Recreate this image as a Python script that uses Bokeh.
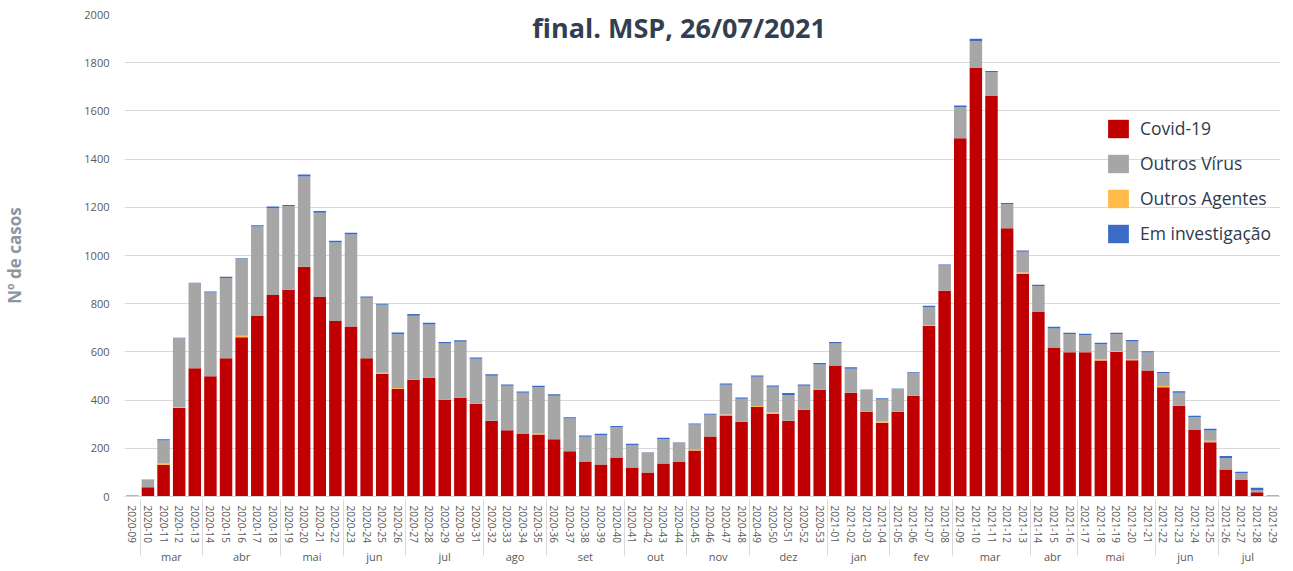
from bokeh.plotting import figure
from bokeh.models import ColumnDataSource, FactorRange, Range1d, Label, Legend, SingleIntervalTicker
from bokeh.embed import file_html
from bokeh.resources import INLINE

weeks = ["2020-09", "2020-10", "2020-11", "2020-12", "2020-13", "2020-14", "2020-15", "2020-16",
         "2020-17", "2020-18", "2020-19", "2020-20", "2020-21", "2020-22", "2020-23", "2020-24",
         "2020-25", "2020-26", "2020-27", "2020-28", "2020-29", "2020-30", "2020-31", "2020-32",
         "2020-33", "2020-34", "2020-35", "2020-36", "2020-37", "2020-38", "2020-39", "2020-40",
         "2020-41", "2020-42", "2020-43", "2020-44", "2020-45", "2020-46", "2020-47", "2020-48",
         "2020-49", "2020-50", "2020-51", "2020-52", "2020-53", "2021-01", "2021-02", "2021-03",
         "2021-04", "2021-05", "2021-06", "2021-07", "2021-08", "2021-09", "2021-10", "2021-11",
         "2021-12", "2021-13", "2021-14", "2021-15", "2021-16", "2021-17", "2021-18", "2021-19",
         "2021-20", "2021-21", "2021-22", "2021-23", "2021-24", "2021-25", "2021-26", "2021-27",
         "2021-28", "2021-29"]

month_names = ["", "mar", "abr", "mai", "jun", "jul", "ago", "set", "out", "nov", "dez",
               "jan", "fev", "mar", "abr", "mai", "jun", "jul"]
month_week_counts = [1, 4, 5, 4, 4, 5, 4, 5, 4, 4, 5, 4, 4, 5, 3, 5, 4, 4]

covid = [0, 38, 131, 367, 532, 499, 574, 661, 749, 836, 858, 953, 828, 728, 705, 574,
         509, 446, 484, 493, 401, 410, 385, 314, 275, 259, 257, 238, 188, 145, 133, 162,
         120, 100, 137, 143, 191, 249, 336, 310, 371, 343, 314, 360, 443, 544, 430, 352,
         306, 352, 418, 707, 854, 1486, 1778, 1662, 1113, 923, 766, 618, 599, 599, 564, 600,
         565, 523, 453, 377, 276, 225, 112, 68, 18, 0]
outros_agentes = [0, 0, 6, 3, 0, 0, 0, 6, 0, 0, 0, 0, 0, 0, 0, 0,
                  4, 4, 0, 0, 0, 0, 0, 0, 0, 0, 7, 0, 0, 0, 0, 0,
                  0, 0, 0, 0, 3, 0, 4, 0, 5, 6, 0, 0, 0, 0, 0, 0,
                  5, 0, 0, 4, 0, 0, 0, 0, 0, 6, 0, 0, 0, 0, 6, 4,
                  5, 0, 6, 0, 0, 6, 0, 0, 0, 0]
outros_virus = [4, 32, 95, 287, 353, 347, 333, 321, 371, 360, 347, 375, 349, 326, 382, 251,
                283, 223, 266, 221, 234, 232, 187, 187, 185, 171, 190, 180, 136, 103, 122, 126,
                93, 83, 101, 81, 105, 90, 124, 96, 121, 106, 107, 100, 105, 91, 100, 91,
                92, 95, 93, 75, 104, 129, 111, 98, 100, 87, 107, 79, 75, 70, 62, 70,
                73, 74, 52, 54, 54, 43, 47, 29, 8, 0]
em_investigacao = [1, 1, 6, 2, 2, 5, 5, 2, 6, 7, 5, 8, 8, 7, 7, 5,
                   4, 7, 7, 7, 6, 6, 5, 6, 5, 6, 6, 6, 5, 5, 5, 5,
                   6, 1, 6, 1, 4, 4, 5, 5, 5, 6, 8, 5, 6, 6, 6, 1,
                   5, 1, 5, 6, 5, 7, 10, 6, 5, 5, 6, 7, 5, 6, 6, 5,
                   6, 6, 6, 6, 5, 7, 9, 6, 10, 4]

series_keys = ["covid", "agentes", "virus", "invest"]
series_colors = ["#C00000", "#FFBA4A", "#A6A6A6", "#3A6CC6"]
legend_order = [("Covid-19", 0), ("Outros Vírus", 2), ("Outros Agentes", 1), ("Em investigação", 3)]

# Build nested factors (unique keys for repeated month names)
month_per_week = []
seen = set()
for name, n in zip(month_names, month_week_counts):
    key = name if name else " "
    while key in seen:
        key = key + " "
    seen.add(key)
    month_per_week += [key] * n
factors = list(zip(month_per_week, weeks))

source = ColumnDataSource(dict(x=factors, covid=covid, agentes=outros_agentes,
                               virus=outros_virus, invest=em_investigacao))

p = figure(width=1290, height=571, output_backend="svg", toolbar_location=None,
           x_range=FactorRange(*factors, factor_padding=0, group_padding=0,
                               subgroup_padding=0, range_padding=0),
           y_range=Range1d(0, 2000),
           min_border_left=118, min_border_right=10, min_border_top=14, min_border_bottom=75)
p.outline_line_color = None

renderers = p.vbar_stack(series_keys, x="x", width=0.8, source=source,
                         color=series_colors, line_color=None)

legend = Legend(items=[(name, [renderers[i]]) for name, i in legend_order],
                location=(981, 251))
legend.glyph_width = 26
legend.glyph_height = 23
legend.spacing = 11
legend.padding = 0
legend.margin = 0
legend.label_standoff = 9
legend.label_text_font = "Open Sans"
legend.label_text_font_size = "17.5px"
legend.label_text_color = "#2F3B4C"
legend.border_line_color = None
legend.background_fill_alpha = 0
p.add_layout(legend)

# y axis
p.yaxis.ticker = SingleIntervalTicker(interval=200)
p.yaxis.axis_line_color = None
p.yaxis.major_tick_line_color = None
p.yaxis.minor_tick_line_color = None
p.yaxis.major_label_text_font = "Open Sans"
p.yaxis.major_label_text_font_size = "11px"
p.yaxis.major_label_text_color = "#595959"
p.yaxis.major_label_standoff = 9
p.yaxis.axis_label = "Nº de casos"
p.yaxis.axis_label_text_font = "Open Sans"
p.yaxis.axis_label_text_font_style = "bold"
p.yaxis.axis_label_text_font_size = "17px"
p.yaxis.axis_label_text_color = "#8C96A3"
p.yaxis.axis_label_standoff = 55

p.ygrid.grid_line_color = "#D9D9D9"
p.xgrid.grid_line_color = None

# x axis
p.xaxis.axis_line_color = "#D9D9D9"
p.xaxis.major_tick_line_color = None
p.xaxis.major_label_orientation = "vertical"
p.xaxis.major_label_text_font = "Open Sans"
p.xaxis.major_label_text_font_size = "10px"
p.xaxis.major_label_text_color = "#595959"
p.xaxis.major_label_standoff = 3
p.xaxis.group_text_font = "Open Sans"
p.xaxis.group_text_font_size = "11px"
p.xaxis.group_text_font_style = "normal"
p.xaxis.group_text_color = "#595959"
p.xaxis.separator_line_color = "#D9D9D9"
p.xaxis.separator_line_width = 1

title = Label(x=35.5, y=1945, text="final. MSP, 26/07/2021", text_align="center",
              text_baseline="middle", text_font="Open Sans", text_font_style="bold",
              text_font_size="27px", text_color="#333F50")
p.add_layout(title)

open("out.html", "w").write(file_html(p, INLINE))
